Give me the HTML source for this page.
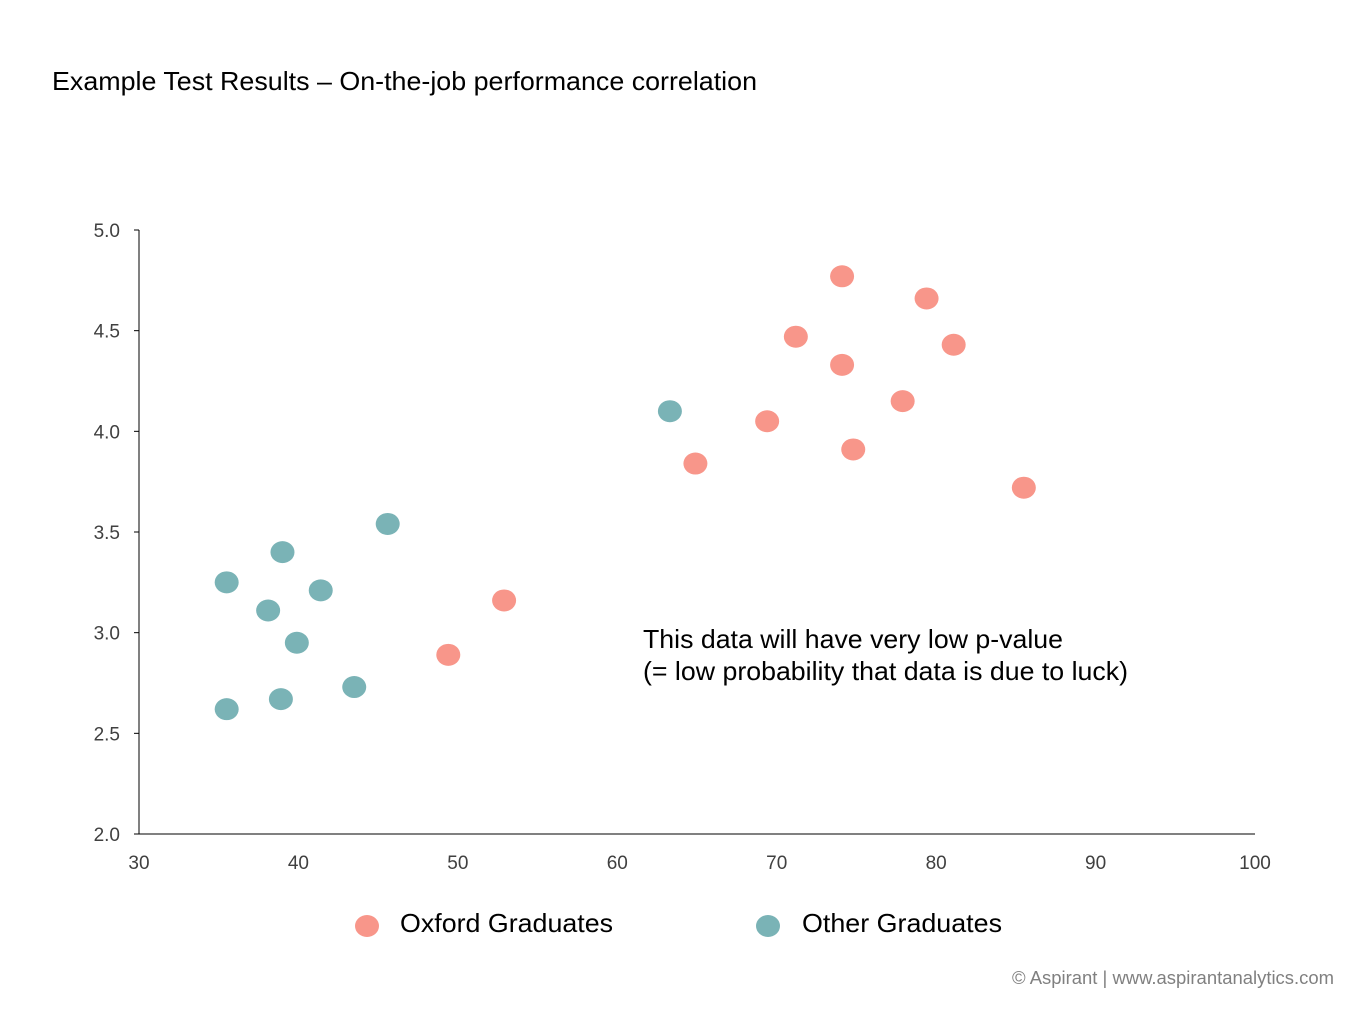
<!DOCTYPE html>
<html><head><meta charset="utf-8"><style>
body{margin:0;background:#fff;font-family:"Liberation Sans",sans-serif;}
svg{display:block}
</style></head><body>
<svg width="1365" height="1024" viewBox="0 0 1365 1024">
<text x="52" y="90" font-size="26" fill="#000" textLength="705" lengthAdjust="spacingAndGlyphs">Example Test Results – On-the-job performance correlation</text>
<g id="axes"></g>
<g id="marks"></g>
<text x="643" y="648" font-size="26" fill="#000" textLength="420" lengthAdjust="spacingAndGlyphs">This data will have very low p-value</text>
<text x="643" y="680" font-size="26" fill="#000" textLength="485" lengthAdjust="spacingAndGlyphs">(= low probability that data is due to luck)</text>
<g>
<ellipse cx="367" cy="926" rx="12" ry="11" fill="#f8968a"/>
<text x="400" y="932" font-size="26" fill="#000" textLength="213" lengthAdjust="spacingAndGlyphs">Oxford Graduates</text>
<ellipse cx="768" cy="926" rx="12" ry="11" fill="#7ab3b6"/>
<text x="802" y="932" font-size="26" fill="#000" textLength="200" lengthAdjust="spacingAndGlyphs">Other Graduates</text>
</g>
<text x="1334" y="984" font-size="18" fill="#808080" text-anchor="end" textLength="322" lengthAdjust="spacingAndGlyphs">© Aspirant | www.aspirantanalytics.com</text>
</svg>
<script>
const xTicks=[30,40,50,60,70,80,90,100];
const yTicks=[2.0,2.5,3.0,3.5,4.0,4.5,5.0];
const oxfordX=[74.1,79.4,71.2,81.1,74.1,77.9,69.4,74.8,64.9,85.5,52.9,49.4];
const oxfordY=[4.77,4.66,4.47,4.43,4.33,4.15,4.05,3.91,3.84,3.72,3.16,2.89];
const otherX=[63.3,45.6,39.0,35.5,41.4,38.1,39.9,43.5,38.9,35.5];
const otherY=[4.10,3.54,3.40,3.25,3.21,3.11,2.95,2.73,2.67,2.62];
const NS="http://www.w3.org/2000/svg";
const X0=139,X1=1255,Y0=834,Y1=230;
const xs=v=>X0+(v-30)/(100-30)*(X1-X0);
const ys=v=>Y0-(v-2)/(5-2)*(Y0-Y1);
const axes=document.getElementById('axes');
function mk(t,a,p){const e=document.createElementNS(NS,t);for(const k in a)e.setAttribute(k,a[k]);p.appendChild(e);return e;}
const xa=mk('line',{x1:X0,y1:Y0,x2:X1,y2:Y0,stroke:'#000','stroke-width':1},axes);


const ya=mk('line',{x1:X0,y1:Y1,x2:X0,y2:Y0,stroke:'#000','stroke-width':1},axes);


xTicks.forEach(v=>{const t=mk('text',{x:xs(v),y:869,'font-size':19,fill:'#404040','text-anchor':'middle'},axes);t.textContent=v;

});
yTicks.forEach(v=>{const t=mk('text',{x:120,y:ys(v)+7,'font-size':19,fill:'#404040','text-anchor':'end'},axes);t.textContent=v.toFixed(1);


const tk=mk('line',{x1:X0-5,y1:ys(v),x2:X0,y2:ys(v),stroke:'#000'},axes);

});
const marks=document.getElementById('marks');
oxfordX.forEach((x,i)=>{const e=mk('ellipse',{cx:xs(x),cy:ys(oxfordY[i]),rx:12,ry:11,fill:'#f8968a'},marks);

});
otherX.forEach((x,i)=>{const e=mk('ellipse',{cx:xs(x),cy:ys(otherY[i]),rx:12,ry:11,fill:'#7ab3b6'},marks);

});
</script>
</body></html>
